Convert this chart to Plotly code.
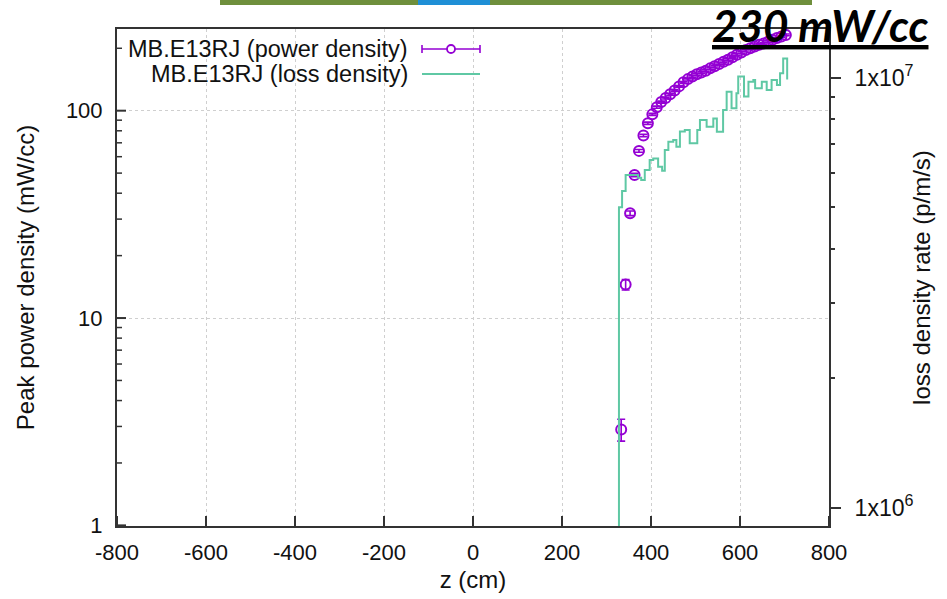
import plotly.graph_objects as go

# Peak power density along the magnet (left axis)
power_z = [333, 343, 353, 363, 373, 383, 393, 403, 413, 423, 433, 443, 453, 463, 473,
           483, 493, 503, 513, 523, 533, 543, 553, 563, 573, 583, 593, 603, 613, 623,
           633, 643, 653, 663, 673, 683, 693, 703]
power_density = [2.9, 14.5, 32, 49, 64, 76, 87, 96, 104, 110, 115, 120, 125, 131, 137,
                 142, 146, 150, 153, 156, 160, 164, 168, 172, 176, 181, 186, 191, 196, 200,
                 204, 208, 211, 215, 220, 224, 228, 232]
power_err = [0.35, 0.85, 0.8, 0.9, 1.0, 1.0, 1.1, 1.1, 1.2, 1.2, 1.2, 1.3, 1.3, 1.3, 1.4,
             1.4, 1.5, 1.5, 1.5, 1.6, 1.6, 1.6, 1.7, 1.7, 1.8, 1.8, 1.9, 1.9, 2.0, 2.0,
             2.0, 2.1, 2.1, 2.2, 2.2, 2.2, 2.3, 2.3]

# Loss density rate histogram (right axis), drawn as steps
loss_z = [318, 328, 335, 343, 371, 378, 386, 397, 405, 416, 425, 431, 439, 450, 457,
          465, 476, 487, 504, 510, 525, 540, 548, 562, 570, 581, 592, 596, 609, 619,
          630, 634, 649, 660, 671, 683, 690, 697, 706]
loss_rate = [5.0e5, 5.0e6, 5.45e6, 5.94e6, 5.85e6, 5.78e6, 6.10e6, 6.44e6, 6.49e6, 6.21e6,
             6.08e6, 6.79e6, 7.10e6, 7.16e6, 6.91e6, 7.50e6, 7.56e6, 7.04e6, 7.56e6, 7.97e6,
             7.69e6, 8.04e6, 7.49e6, 8.41e6, 9.28e6, 8.49e6, 9.20e6, 1.006e7, 9.04e6, 9.79e6,
             9.88e6, 9.45e6, 9.79e6, 9.36e6, 9.88e6, 9.62e6, 1.024e7, 1.109e7, 9.91e6]

x_ticks = [-800, -600, -400, -200, 0, 200, 400, 600, 800]
x_labels = ["-800", "-600", "-400", "-200", "0", "200", "400", "600", "800"]
y_ticks = [1, 10, 100]
y_labels = ["1", "10", "100"]
y_minor = [2, 3, 4, 5, 6, 7, 8, 9, 20, 30, 40, 50, 60, 70, 80, 90, 200]
y2_ticks = [1e6, 1e7]
y2_labels = ["1x10<sup>6</sup>", "1x10<sup>7</sup>"]
y2_minor = [2e6, 3e6, 4e6, 5e6, 6e6, 7e6, 8e6, 9e6]

legend_labels = ["MB.E13RJ (power density)", "MB.E13RJ (loss density)"]
headline = "230 mW/cc"

PURPLE = "#9400d3"
GREEN = "#5fc8a4"
AXIS = "#333333"
FONT = "Liberation Sans"

W, H = 947, 599
L, R, T, B = 117, 118, 29, 73
PW, PH = W - L - R, H - T - B
X_RANGE = [-800, 800]
Y_RANGE = [-0.003, 2.394]
Y2_RANGE = [5.9574, 7.1133]

# data units per screen pixel, used for the inward tick lengths
X_PER_PX = (X_RANGE[1] - X_RANGE[0]) / PW
LOGY_PER_PX = (Y_RANGE[1] - Y_RANGE[0]) / PH


def px(x):
    return (x - L) / PW


def py(y):
    return (H - B - y) / PH


fig = go.Figure()

fig.add_trace(go.Scatter(
    x=loss_z, y=loss_rate, yaxis="y2", mode="lines",
    line=dict(color=GREEN, width=2, shape="hv"),
    name=legend_labels[1], showlegend=False,
))

fig.add_trace(go.Scatter(
    x=power_z, y=power_density, mode="markers",
    marker=dict(symbol="circle-open", size=10, color=PURPLE, line=dict(width=2, color=PURPLE)),
    error_y=dict(type="data", array=power_err, color=PURPLE, thickness=1.6, width=4),
    name=legend_labels[0], showlegend=False,
))


# inward ticks on the left and bottom axes, drawn as short segments
def left_ticks(vals, length_px):
    xs, ys = [], []
    for v in vals:
        xs += [X_RANGE[0], X_RANGE[0] + length_px * X_PER_PX, None]
        ys += [v, v, None]
    return xs, ys


def bottom_ticks(vals, length_px):
    xs, ys = [], []
    y_lo = 10 ** Y_RANGE[0]
    y_hi = 10 ** (Y_RANGE[0] + length_px * LOGY_PER_PX)
    for v in vals:
        xs += [v, v, None]
        ys += [y_lo, y_hi, None]
    return xs, ys


for (xs, ys), width in ((left_ticks(y_ticks, 9), 2), (left_ticks(y_minor, 5), 1.5),
                        (bottom_ticks(x_ticks, 10), 2)):
    fig.add_trace(go.Scatter(x=xs, y=ys, mode="lines", line=dict(color=AXIS, width=width),
                             hoverinfo="skip", showlegend=False, cliponaxis=False))

# invisible anchor so the right minor-tick axis is drawn
fig.add_trace(go.Scatter(x=[0], y=[3e6], yaxis="y4", mode="markers",
                         marker=dict(opacity=0), hoverinfo="skip", showlegend=False))

shapes = []
annotations = []

# top strip
shapes.append(dict(type="rect", xref="paper", yref="paper", x0=px(220), x1=px(812),
                   y0=py(5), y1=py(0), fillcolor="#6f8f3c", line=dict(width=0), layer="above"))
shapes.append(dict(type="rect", xref="paper", yref="paper", x0=px(418), x1=px(490),
                   y0=py(5), y1=py(0), fillcolor="#1f8fd6", line=dict(width=0), layer="above"))

# key, gnuplot style: right-aligned text followed by a sample
key_rows = [49, 74]
for label, yrow in zip(legend_labels, key_rows):
    annotations.append(dict(xref="paper", yref="paper", x=px(410), y=py(yrow), xanchor="right",
                            yanchor="middle", text=label, showarrow=False,
                            font=dict(family=FONT, size=23.5, color="#111111")))
# power density sample
shapes.append(dict(type="line", xref="paper", yref="paper", x0=px(422), x1=px(480),
                   y0=py(key_rows[0]), y1=py(key_rows[0]), line=dict(color=PURPLE, width=1.6)))
for xc in (422, 480):
    shapes.append(dict(type="line", xref="paper", yref="paper", x0=px(xc), x1=px(xc),
                       y0=py(key_rows[0] - 4), y1=py(key_rows[0] + 4),
                       line=dict(color=PURPLE, width=1.6)))
shapes.append(dict(type="circle", xref="paper", yref="paper", x0=px(447), x1=px(455),
                   y0=py(key_rows[0] + 4), y1=py(key_rows[0] - 4),
                   fillcolor="white", line=dict(color=PURPLE, width=1.8)))
# loss density sample
shapes.append(dict(type="line", xref="paper", yref="paper", x0=px(422), x1=px(480),
                   y0=py(key_rows[1]), y1=py(key_rows[1]), line=dict(color=GREEN, width=2)))

annotations.append(dict(xref="paper", yref="paper", x=px(931), y=py(25), xanchor="right",
                        yanchor="middle", text="<b><i><u>" + headline + "</u></i></b>",
                        showarrow=False, font=dict(family="Lato", size=44, color="#000000")))

fig.update_layout(
    width=W, height=H,
    margin=dict(l=L, r=R, t=T, b=B, autoexpand=False),
    paper_bgcolor="white", plot_bgcolor="white",
    font=dict(family=FONT, size=22, color="#111111"),
    showlegend=False,
    shapes=shapes, annotations=annotations,
    xaxis=dict(
        range=X_RANGE, tickmode="array", tickvals=x_ticks, ticktext=x_labels,
        ticks="",
        showline=True, linecolor=AXIS, linewidth=2, mirror=True,
        showgrid=True, gridcolor="#cfcfcf", griddash="dot", gridwidth=1,
        zeroline=False, ticklabelstandoff=6,
        title=dict(text="z (cm)", standoff=7, font=dict(size=24)),
    ),
    yaxis=dict(
        type="log", range=Y_RANGE, tickmode="array", tickvals=y_ticks, ticktext=y_labels,
        ticks="",
        showline=True, linecolor=AXIS, linewidth=2,
        showgrid=True, gridcolor="#cfcfcf", griddash="dot", gridwidth=1,
        zeroline=False, ticklabelstandoff=8,
        title=dict(text="Peak power density (mW/cc)", standoff=24, font=dict(size=24)),
    ),
    yaxis2=dict(
        type="log", range=Y2_RANGE, overlaying="y", side="right",
        tickmode="array", tickvals=y2_ticks, ticktext=y2_labels,
        ticks="outside", ticklen=10, tickwidth=1.5, tickcolor=AXIS,
        showline=True, linecolor=AXIS, linewidth=2,
        showgrid=False, zeroline=False, ticklabelstandoff=9,
        tickfont=dict(size=23),
        title=dict(text="loss density rate (p/m/s)", standoff=1, font=dict(size=24)),
    ),
    yaxis4=dict(
        type="log", range=Y2_RANGE, overlaying="y", side="right",
        tickmode="array", tickvals=y2_minor, ticklen=5, tickwidth=1.5,
        showticklabels=False, showline=False, showgrid=False, zeroline=False,
        ticks="outside", tickcolor=AXIS,
    ),
)

fig.write_html("out.html")
